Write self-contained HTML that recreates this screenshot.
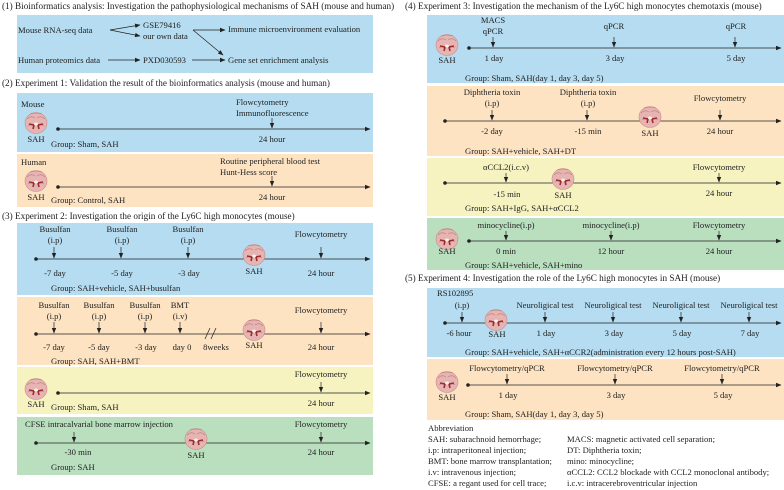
<!DOCTYPE html>
<html><head><meta charset="utf-8"><style>
html,body{margin:0;padding:0;background:#fff}
svg{display:block}
text{font-family:"Liberation Serif",serif;font-size:8.6px;fill:#222}
.c{text-anchor:middle}
.t{font-size:9.2px}
</style></head><body>
<svg width="784" height="490" viewBox="0 0 784 490" xmlns="http://www.w3.org/2000/svg">
<defs>
<marker id="a" markerWidth="6" markerHeight="6" refX="5" refY="3" orient="auto" markerUnits="userSpaceOnUse"><path d="M0,0.8 L5.5,3 L0,5.2 z" fill="#222"/></marker>
<g id="b">
<ellipse cx="0" cy="0" rx="11" ry="10.5" fill="#e6b4b2" stroke="#c98c8a" stroke-width="0.6"/>
<path d="M-9,-4 Q-5,-8 -1,-5 M1,-5 Q5,-8 9,-4 M-8,3 Q-4,0 -2,4 M2,4 Q4,0 8,3 M-6,-9 Q0,-11 6,-9" stroke="#c08280" stroke-width="0.7" fill="none"/>
<path d="M-7,1 L-2,2 L-3,6 M7,1 L2,2 L3,6" stroke="#9c2c30" stroke-width="1.6" fill="none"/>
<ellipse cx="0" cy="1" rx="2" ry="1.5" fill="#f5f0e0"/>
</g>
</defs>

<!-- LEFT -->
<text class="t" x="2" y="9">(1)  Bioinformatics analysis: Investigation the pathophysiological mechanisms of SAH (mouse and human)</text>
<rect x="17" y="15" width="356" height="58" fill="#b5dcf0"/>
<text x="18" y="33">Mouse RNA-seq data</text>
<text x="143" y="28">GSE79416</text>
<text x="143" y="39">our own data</text>
<line x1="110" y1="30" x2="140" y2="25" stroke="#222" stroke-width="0.7" marker-end="url(#a)"/>
<line x1="110" y1="30" x2="140" y2="36" stroke="#222" stroke-width="0.7" marker-end="url(#a)"/>
<text x="228" y="32">Immune microenvironment evaluation</text>
<line x1="193" y1="30" x2="225" y2="30" stroke="#222" stroke-width="0.7" marker-end="url(#a)"/>
<line x1="193" y1="30" x2="223" y2="55" stroke="#222" stroke-width="0.7" marker-end="url(#a)"/>
<text x="18" y="63">Human proteomics data</text>
<line x1="108" y1="60" x2="140" y2="60" stroke="#222" stroke-width="0.7" marker-end="url(#a)"/>
<text x="143" y="63">PXD030593</text>
<line x1="192" y1="60" x2="225" y2="60" stroke="#222" stroke-width="0.7" marker-end="url(#a)"/>
<text x="228" y="63">Gene set enrichment analysis</text>

<text class="t" x="2" y="86">(2)  Experiment 1: Validation the result of the bioinformatics analysis (mouse and human)</text>
<rect x="17" y="93" width="356" height="59" fill="#b5dcf0"/>
<text x="21" y="107">Mouse</text>
<use href="#b" x="36" y="123"/>
<text class="c" x="36" y="142">SAH</text>
<circle cx="58" cy="129" r="1.8" fill="#222"/>
<line x1="58" y1="129" x2="370" y2="129" stroke="#222" stroke-width="0.7" marker-end="url(#a)"/>
<text x="236" y="105">Flowcytometry</text>
<text x="236" y="116">Immunofluorescence</text>
<line x1="272" y1="118" x2="272" y2="128" stroke="#222" stroke-width="0.7" marker-end="url(#a)"/>
<text class="c" x="272" y="142">24 hour</text>
<text x="51" y="147">Group: Sham, SAH</text>

<rect x="17" y="154" width="356" height="53" fill="#fde3c2"/>
<text x="21" y="165">Human</text>
<use href="#b" x="36" y="181"/>
<text class="c" x="36" y="200">SAH</text>
<circle cx="58" cy="187" r="1.8" fill="#222"/>
<line x1="58" y1="187" x2="370" y2="187" stroke="#222" stroke-width="0.7" marker-end="url(#a)"/>
<text x="220" y="164">Routine peripheral blood test</text>
<text x="220" y="175">Hunt-Hess score</text>
<line x1="272" y1="176" x2="272" y2="186" stroke="#222" stroke-width="0.7" marker-end="url(#a)"/>
<text class="c" x="272" y="200">24 hour</text>
<text x="51" y="203">Group: Control, SAH</text>

<text class="t" x="2" y="219">(3)  Experiment 2: Investigation the origin of the Ly6C high monocytes (mouse)</text>
<rect x="17" y="223" width="356" height="72" fill="#b5dcf0"/>
<text class="c" x="55" y="232">Busulfan</text><text class="c" x="55" y="243">(i.p)</text>
<text class="c" x="122" y="232">Busulfan</text><text class="c" x="122" y="243">(i.p)</text>
<text class="c" x="188" y="232">Busulfan</text><text class="c" x="188" y="243">(i.p)</text>
<text class="c" x="321" y="237">Flowcytometry</text>
<circle cx="36" cy="259" r="1.8" fill="#222"/>
<line x1="36" y1="259" x2="370" y2="259" stroke="#222" stroke-width="0.7" marker-end="url(#a)"/>
<line x1="54" y1="247" x2="54" y2="258" stroke="#222" stroke-width="0.7" marker-end="url(#a)"/>
<line x1="121" y1="247" x2="121" y2="258" stroke="#222" stroke-width="0.7" marker-end="url(#a)"/>
<line x1="188" y1="247" x2="188" y2="258" stroke="#222" stroke-width="0.7" marker-end="url(#a)"/>
<line x1="321" y1="247" x2="321" y2="258" stroke="#222" stroke-width="0.7" marker-end="url(#a)"/>
<use href="#b" x="254" y="255"/>
<text class="c" x="55" y="276">-7 day</text>
<text class="c" x="122" y="276">-5 day</text>
<text class="c" x="189" y="276">-3 day</text>
<text class="c" x="254" y="274">SAH</text>
<text class="c" x="321" y="276">24 hour</text>
<text x="51" y="291">Group: SAH+vehicle, SAH+busulfan</text>

<rect x="17" y="297" width="356" height="68" fill="#fde3c2"/>
<text class="c" x="54" y="308">Busulfan</text><text class="c" x="54" y="319">(i.p)</text>
<text class="c" x="99" y="308">Busulfan</text><text class="c" x="99" y="319">(i.p)</text>
<text class="c" x="145" y="308">Busulfan</text><text class="c" x="145" y="319">(i.p)</text>
<text class="c" x="180" y="308">BMT</text><text class="c" x="180" y="319">(i.v)</text>
<text class="c" x="321" y="313">Flowcytometry</text>
<circle cx="36" cy="334" r="1.8" fill="#222"/>
<line x1="36" y1="334" x2="370" y2="334" stroke="#222" stroke-width="0.7" marker-end="url(#a)"/>
<line x1="54" y1="322" x2="54" y2="333" stroke="#222" stroke-width="0.7" marker-end="url(#a)"/>
<line x1="99" y1="322" x2="99" y2="333" stroke="#222" stroke-width="0.7" marker-end="url(#a)"/>
<line x1="145" y1="322" x2="145" y2="333" stroke="#222" stroke-width="0.7" marker-end="url(#a)"/>
<line x1="180" y1="322" x2="180" y2="333" stroke="#222" stroke-width="0.7" marker-end="url(#a)"/>
<line x1="321" y1="322" x2="321" y2="333" stroke="#222" stroke-width="0.7" marker-end="url(#a)"/>
<line x1="205" y1="339" x2="210" y2="328" stroke="#222" stroke-width="0.7"/>
<line x1="211" y1="339" x2="216" y2="328" stroke="#222" stroke-width="0.7"/>
<use href="#b" x="254" y="330"/>
<text class="c" x="54" y="350">-7 day</text>
<text class="c" x="99" y="350">-5 day</text>
<text class="c" x="146" y="350">-3 day</text>
<text class="c" x="182" y="350">day 0</text>
<text class="c" x="216" y="350">8weeks</text>
<text class="c" x="254" y="348">SAH</text>
<text class="c" x="321" y="350">24 hour</text>
<text x="51" y="364">Group: SAH, SAH+BMT</text>

<rect x="17" y="367" width="356" height="47" fill="#f6f3c1"/>
<text class="c" x="321" y="377">Flowcytometry</text>
<line x1="321" y1="382" x2="321" y2="392" stroke="#222" stroke-width="0.7" marker-end="url(#a)"/>
<circle cx="58" cy="393" r="1.8" fill="#222"/>
<line x1="58" y1="393" x2="370" y2="393" stroke="#222" stroke-width="0.7" marker-end="url(#a)"/>
<use href="#b" x="36" y="389"/>
<text class="c" x="36" y="407">SAH</text>
<text class="c" x="321" y="406">24 hour</text>
<text x="51" y="410">Group: Sham, SAH</text>

<rect x="17" y="417" width="356" height="58" fill="#b9dfbf"/>
<text x="25" y="427">CFSE intracalvarial bone marrow injection</text>
<text class="c" x="321" y="427">Flowcytometry</text>
<line x1="74" y1="432" x2="74" y2="442" stroke="#222" stroke-width="0.7" marker-end="url(#a)"/>
<line x1="321" y1="432" x2="321" y2="442" stroke="#222" stroke-width="0.7" marker-end="url(#a)"/>
<circle cx="36" cy="443" r="1.8" fill="#222"/>
<line x1="36" y1="443" x2="370" y2="443" stroke="#222" stroke-width="0.7" marker-end="url(#a)"/>
<use href="#b" x="196" y="439"/>
<text class="c" x="78" y="455">-30 min</text>
<text class="c" x="196" y="458">SAH</text>
<text class="c" x="321" y="455">24 hour</text>
<text x="51" y="470">Group: SAH</text>

<!-- RIGHT -->
<text class="t" x="405" y="9">(4)  Experiment 3: Investigation the mechanism of  the Ly6C high monocytes chemotaxis (mouse)</text>
<rect x="427" y="15" width="357" height="68" fill="#b5dcf0"/>
<text class="c" x="493" y="23">MACS</text><text class="c" x="493" y="34">qPCR</text>
<text class="c" x="614" y="29">qPCR</text>
<text class="c" x="736" y="29">qPCR</text>
<line x1="493" y1="37" x2="493" y2="47" stroke="#222" stroke-width="0.7" marker-end="url(#a)"/>
<line x1="614" y1="37" x2="614" y2="47" stroke="#222" stroke-width="0.7" marker-end="url(#a)"/>
<line x1="735" y1="37" x2="735" y2="47" stroke="#222" stroke-width="0.7" marker-end="url(#a)"/>
<circle cx="469" cy="48" r="1.8" fill="#222"/>
<line x1="469" y1="48" x2="781" y2="48" stroke="#222" stroke-width="0.7" marker-end="url(#a)"/>
<use href="#b" x="447" y="45"/>
<text class="c" x="447" y="63">SAH</text>
<text class="c" x="494" y="61">1 day</text>
<text class="c" x="615" y="61">3 day</text>
<text class="c" x="736" y="61">5 day</text>
<text x="465" y="81">Group: Sham, SAH(day 1, day 3, day 5)</text>

<rect x="427" y="86" width="357" height="70" fill="#fde3c2"/>
<text class="c" x="492" y="95">Diphtheria toxin</text><text class="c" x="492" y="106">(i.p)</text>
<text class="c" x="588" y="95">Diphtheria toxin</text><text class="c" x="588" y="106">(i.p)</text>
<text class="c" x="720" y="101">Flowcytometry</text>
<line x1="492" y1="110" x2="492" y2="120" stroke="#222" stroke-width="0.7" marker-end="url(#a)"/>
<line x1="587" y1="110" x2="587" y2="120" stroke="#222" stroke-width="0.7" marker-end="url(#a)"/>
<line x1="720" y1="110" x2="720" y2="120" stroke="#222" stroke-width="0.7" marker-end="url(#a)"/>
<circle cx="445" cy="121" r="1.8" fill="#222"/>
<line x1="445" y1="121" x2="781" y2="121" stroke="#222" stroke-width="0.7" marker-end="url(#a)"/>
<use href="#b" x="650" y="117"/>
<text class="c" x="492" y="134">-2 day</text>
<text class="c" x="588" y="134">-15 min</text>
<text class="c" x="650" y="136">SAH</text>
<text class="c" x="720" y="134">24 hour</text>
<text x="465" y="154">Group: SAH+vehicle, SAH+DT</text>

<rect x="427" y="158" width="357" height="58" fill="#f6f3c1"/>
<text class="c" x="506" y="170">αCCL2(i.c.v)</text>
<text class="c" x="719" y="170">Flowcytometry</text>
<line x1="506" y1="173" x2="506" y2="182" stroke="#222" stroke-width="0.7" marker-end="url(#a)"/>
<line x1="719" y1="173" x2="719" y2="182" stroke="#222" stroke-width="0.7" marker-end="url(#a)"/>
<circle cx="445" cy="183" r="1.8" fill="#222"/>
<line x1="445" y1="183" x2="781" y2="183" stroke="#222" stroke-width="0.7" marker-end="url(#a)"/>
<use href="#b" x="563" y="179"/>
<text class="c" x="507" y="197">-15 min</text>
<text class="c" x="563" y="198">SAH</text>
<text class="c" x="719" y="196">24 hour</text>
<text x="465" y="211">Group: SAH+IgG, SAH+αCCL2</text>

<rect x="427" y="218" width="357" height="52" fill="#b9dfbf"/>
<text class="c" x="506" y="228">minocycline(i.p)</text>
<text class="c" x="611" y="228">minocycline(i.p)</text>
<text class="c" x="719" y="228">Flowcytometry</text>
<line x1="506" y1="231" x2="506" y2="240" stroke="#222" stroke-width="0.7" marker-end="url(#a)"/>
<line x1="611" y1="231" x2="611" y2="240" stroke="#222" stroke-width="0.7" marker-end="url(#a)"/>
<line x1="719" y1="231" x2="719" y2="240" stroke="#222" stroke-width="0.7" marker-end="url(#a)"/>
<circle cx="469" cy="241" r="1.8" fill="#222"/>
<line x1="469" y1="241" x2="781" y2="241" stroke="#222" stroke-width="0.7" marker-end="url(#a)"/>
<use href="#b" x="447" y="239"/>
<text class="c" x="447" y="254">SAH</text>
<text class="c" x="506" y="254">0 min</text>
<text class="c" x="611" y="254">12 hour</text>
<text class="c" x="719" y="254">24 hour</text>
<text x="465" y="268">Group: SAH+vehicle, SAH+mino</text>

<text class="t" x="405" y="281">(5)  Experiment 4: Investigation the role of  the Ly6C high monocytes in SAH (mouse)</text>
<rect x="427" y="288" width="357" height="69" fill="#b5dcf0"/>
<text x="437" y="296">RS102895</text>
<text class="c" x="462" y="308">(i.p)</text>
<text class="c" x="545" y="308">Neuroligical test</text>
<text class="c" x="613" y="308">Neuroligical test</text>
<text class="c" x="681" y="308">Neuroligical test</text>
<text class="c" x="749" y="308">Neuroligical test</text>
<line x1="462" y1="312" x2="462" y2="322" stroke="#222" stroke-width="0.7" marker-end="url(#a)"/>
<line x1="545" y1="312" x2="545" y2="322" stroke="#222" stroke-width="0.7" marker-end="url(#a)"/>
<line x1="613" y1="312" x2="613" y2="322" stroke="#222" stroke-width="0.7" marker-end="url(#a)"/>
<line x1="681" y1="312" x2="681" y2="322" stroke="#222" stroke-width="0.7" marker-end="url(#a)"/>
<line x1="749" y1="312" x2="749" y2="322" stroke="#222" stroke-width="0.7" marker-end="url(#a)"/>
<circle cx="445" cy="323" r="1.8" fill="#222"/>
<line x1="445" y1="323" x2="781" y2="323" stroke="#222" stroke-width="0.7" marker-end="url(#a)"/>
<use href="#b" x="496" y="320"/>
<text class="c" x="459" y="336">-6 hour</text>
<text class="c" x="497" y="337">SAH</text>
<text class="c" x="546" y="336">1 day</text>
<text class="c" x="614" y="336">3 day</text>
<text class="c" x="682" y="336">5 day</text>
<text class="c" x="750" y="336">7 day</text>
<text x="465" y="355">Group: SAH+vehicle, SAH+αCCR2(administration every 12 hours post-SAH)</text>

<rect x="427" y="359" width="357" height="61" fill="#fde3c2"/>
<text class="c" x="507" y="371">Flowcytometry/qPCR</text>
<text class="c" x="615" y="371">Flowcytometry/qPCR</text>
<text class="c" x="722" y="371">Flowcytometry/qPCR</text>
<line x1="507" y1="374" x2="507" y2="384" stroke="#222" stroke-width="0.7" marker-end="url(#a)"/>
<line x1="615" y1="374" x2="615" y2="384" stroke="#222" stroke-width="0.7" marker-end="url(#a)"/>
<line x1="722" y1="374" x2="722" y2="384" stroke="#222" stroke-width="0.7" marker-end="url(#a)"/>
<circle cx="468" cy="385" r="1.8" fill="#222"/>
<line x1="468" y1="385" x2="781" y2="385" stroke="#222" stroke-width="0.7" marker-end="url(#a)"/>
<use href="#b" x="447" y="382"/>
<text class="c" x="447" y="400">SAH</text>
<text class="c" x="508" y="398">1 day</text>
<text class="c" x="616" y="398">3 day</text>
<text class="c" x="723" y="398">5 day</text>
<text x="465" y="417">Group: Sham, SAH(day 1, day 3, day 5)</text>

<text x="428" y="431">Abbreviation</text>
<text x="428" y="442">SAH: subarachnoid hemorrhage;</text>
<text x="428" y="453">i.p: intraperitoneal injection;</text>
<text x="428" y="464">BMT: bone marrow transplantation;</text>
<text x="428" y="475">i.v: intravenous injection;</text>
<text x="428" y="486">CFSE:  a regant used for cell trace;</text>
<text x="567" y="442">MACS: magnetic activated cell separation;</text>
<text x="567" y="453">DT: Diphtheria toxin;</text>
<text x="567" y="464">mino: minocycline;</text>
<text x="567" y="475">αCCL2: CCL2 blockade with CCL2 monoclonal antibody;</text>
<text x="567" y="486">i.c.v: intracerebroventricular injection</text>
</svg>
</body></html>
